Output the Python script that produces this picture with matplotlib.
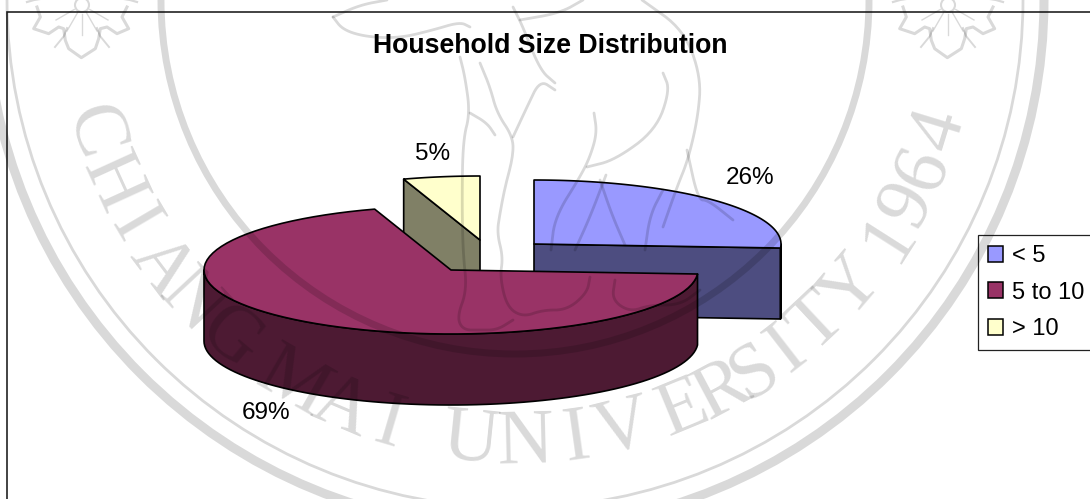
import numpy as np
import matplotlib
matplotlib.use('Agg')
import matplotlib.pyplot as plt
from matplotlib.patches import Circle, Patch, Rectangle

# data
categories = ['< 5', '5 to 10', '> 10']
shares = [26, 69, 5]

# colours per slice: top, side
top_colors = ['#9999FF', '#993366', '#FFFFCC']
side_colors = ['#4D4D80', '#4D1A33', '#808066']

# pie geometry in pixels (fake 3D, tilted ellipse plus extruded side)
apex_x = [534, 451, 480]
apex_y = [244, 270, 240]
label_xy = [(750, 178), (266, 413), (433, 154)]
rx, ry, depth = 247, 64, 71
draw_order = [0, 2, 1]

plt.rcParams['font.family'] = ['Liberation Sans', 'DejaVu Sans']

fig = plt.figure(figsize=(10.9, 4.99), dpi=100)
ax = fig.add_axes([0, 0, 1, 1])
ax.set_xlim(0, 1090)
ax.set_ylim(499, 0)
ax.axis('off')

ax.add_patch(Rectangle((6.5, 11.5), 1300, 800, fc='white', ec='#222222', lw=1.2, zorder=0))


def rim(cx, cy, a0, a1, n=80):
    t = np.radians(np.linspace(a0, a1, n))
    return cx + rx * np.sin(t), cy - ry * np.cos(t)


def draw_slice(cx, cy, a0, a1, top, side, z):
    kw = dict(edgecolor='black', linewidth=1.2, joinstyle='round', zorder=z)
    # flat cut faces
    for ang, show in ((a0, 180 < a0 < 360), (a1, 0 < a1 < 180)):
        if show:
            ex, ey = rim(cx, cy, ang, ang, 1)
            ax.fill([cx, ex[0], ex[0], cx], [cy, ey[0], ey[0] + depth, cy + depth], facecolor=side, **kw)
    # curved outer wall, front half only
    lo, hi = max(a0, 90), min(a1, 270)
    if lo < hi:
        x, y = rim(cx, cy, lo, hi)
        ax.fill(np.r_[x, x[::-1]], np.r_[y, y[::-1] + depth], facecolor=side, **kw)
    # top
    x, y = rim(cx, cy, a0, a1)
    ax.fill(np.r_[cx, x], np.r_[cy, y], facecolor=top, **kw)


edges = np.r_[0, np.cumsum(shares)] / sum(shares) * 360
for z, i in enumerate(draw_order):
    draw_slice(apex_x[i], apex_y[i], edges[i], edges[i + 1], top_colors[i], side_colors[i], 2 + z)

for i, s in enumerate(shares):
    ax.text(label_xy[i][0], label_xy[i][1], f'{s}%', fontsize=17.5, ha='center', va='center', zorder=8)

ax.text(550, 46, 'Household Size Distribution', fontsize=19.2, fontweight='bold', ha='center', va='center', zorder=8)

handles = [Patch(facecolor=c, edgecolor='black', linewidth=1.1) for c in top_colors]
leg = ax.legend(handles, categories, loc='upper left', bbox_to_anchor=(978, 235), bbox_transform=ax.transData,
                fontsize=17, frameon=True, fancybox=False, framealpha=1, edgecolor='#222222',
                borderaxespad=0, borderpad=0.42, labelspacing=0.62, handlelength=0.65, handleheight=0.65,
                handletextpad=0.36)
leg.get_frame().set_linewidth(0.9)
leg.set_zorder(8)

# university seal watermark, lies over the whole chart
WM = dict(color='black', alpha=0.15, zorder=20)
seal_x, seal_y = 515, 0
for r, w in ((529, 6.5), (508, 2.0), (354, 5.0)):
    ax.add_patch(Circle((seal_x, seal_y), r, fill=False, ec='black', lw=w, alpha=0.15, zorder=20))

seal_text = 'CHIANGMAIUNIVERSITY1964'
# angle of each letter from straight down, + to the left
seal_angle = [72.5, 65.5, 59.5, 53, 47, 40, 30, 23, 16.5, 5.8, -1.3, -8, -14, -22.4, -28, -32.8, -37.8, -43.2, -49.5,
              -57.5, -62.5, -67.5, -73]
r_text = 443
for ch, deg in zip(seal_text, seal_angle):
    phi = np.radians(deg)
    ax.text(seal_x - r_text * np.sin(phi), seal_y + r_text * np.cos(phi), ch, family='Liberation Serif',
            fontsize=56, rotation=-deg, rotation_mode='anchor', ha='center', va='center', **WM)


def smooth(points, rounds=3):
    # corner cutting so the sketch lines are not angular
    p = np.array(points, dtype=float)
    for _ in range(rounds):
        q = np.empty((2 * len(p) - 2, 2))
        q[0::2] = 0.75 * p[:-1] + 0.25 * p[1:]
        q[1::2] = 0.25 * p[:-1] + 0.75 * p[1:]
        p = np.vstack([p[0], q, p[-1]])
    return p


# elephant sketch
elephant = [
    [(333, 17), (343, 30), (367, 37), (400, 38), (433, 30), (460, 22), (470, 27)],
    [(333, 17), (360, 5), (387, 0)],
    [(460, 57), (465, 77), (470, 113), (463, 140), (462, 200), (463, 253), (467, 290), (457, 317), (463, 330),
     (480, 330), (497, 330), (513, 320)],
    [(470, 113), (487, 123), (495, 135)],
    [(480, 63), (490, 87), (497, 113), (513, 137), (513, 157), (505, 187), (500, 213), (497, 233), (503, 257),
     (500, 277), (507, 307), (523, 317), (543, 310), (567, 310), (587, 293), (590, 277)],
    [(513, 137), (527, 107), (540, 80), (555, 90)],
    [(513, 7), (523, 27), (540, 70), (555, 83)],
    [(520, 20), (560, 13), (583, 0)],
    [(642, 0), (684, 30), (701, 77), (698, 117), (688, 160), (677, 187), (663, 227)],
    [(663, 73), (670, 90), (656, 130), (615, 160), (587, 167)],
    [(594, 113), (597, 133), (590, 157), (580, 177), (555, 217), (551, 250)],
    [(687, 150), (698, 200), (708, 200), (733, 220)],
    [(606, 175), (590, 217), (575, 250)],
    [(600, 180), (612, 215), (625, 245)],
    [(663, 190), (650, 215), (645, 250)],
    [(615, 280), (612, 300), (630, 312), (650, 305), (680, 305), (700, 290)],
]
for line in elephant:
    pts = smooth(line)
    ax.plot(pts[:, 0], pts[:, 1], lw=2.0, solid_capstyle='round', solid_joinstyle='round', **WM)

# two flowers either side of the seal
petal = np.array([(110, 20), (120, 50), (100, 85), (145, 100), (175, 80), (190, 85), (195, 120), (205, 145),
                  (243, 172), (285, 145), (295, 115), (300, 85), (320, 80), (350, 100), (385, 85), (365, 50),
                  (380, 20)]) / 3.0 - np.array([245, 14]) / 3.0
for fx in (82, 948):
    ax.plot(fx + petal[:, 0], 5 + petal[:, 1], lw=2.2, solid_joinstyle='round', **WM)
    ax.add_patch(Circle((fx, 5), 7, fill=False, ec='black', lw=1.5, alpha=0.15, zorder=20))
    for a in (120, 150, 180, 210, 240):
        t = np.radians(a)
        ax.plot([fx + 9 * np.sin(t), fx + 30 * np.sin(t)], [5 - 9 * np.cos(t), 5 - 30 * np.cos(t)], lw=1.0, **WM)
    for sgn in (-1, 1):
        ax.plot([fx + sgn * 15, fx + sgn * 18, fx + sgn * 27], [28, 36, 47], lw=1.4, **WM)
        ax.plot([fx + sgn * 36, fx + sgn * 48, fx + sgn * 55], [-2, 0, 2], lw=1.6, **WM)

fig.savefig('out.png', dpi=100)
